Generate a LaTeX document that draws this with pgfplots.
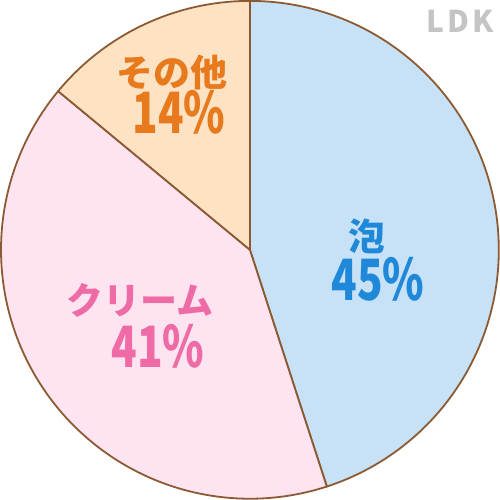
\documentclass[border=0pt]{standalone}
\usepackage{pgfplots}
\pgfplotsset{compat=1.18}
\usepackage{graphicx}
\usepackage{fontspec}
\newfontfamily\jp{Noto Sans CJK JP}
\definecolor{edge}{HTML}{8C5A32}
\definecolor{fillA}{HTML}{C7E1F6}
\definecolor{fillB}{HTML}{FDE4F0}
\definecolor{fillC}{HTML}{FEE2C4}
\definecolor{textA}{HTML}{2088D8}
\definecolor{textB}{HTML}{EE6BA5}
\definecolor{textC}{HTML}{E87A1E}
\definecolor{logo}{HTML}{C4C4C4}

% shares in percent, clockwise from the top
\def\pA{45}
\def\pB{41}
\def\pC{14}
\pgfmathsetmacro\aA{90}
\pgfmathsetmacro\aB{90-3.6*\pA}
\pgfmathsetmacro\aC{\aB-3.6*\pB}
\pgfmathsetmacro\aD{\aC-3.6*\pC}

\newcommand\lbl[1]{\jp\bfseries\fontsize{18.5bp}{20bp}\selectfont #1}
\newcommand\num[1]{\scalebox{0.74}[1]{\jp\bfseries\fontsize{28.5bp}{29bp}\selectfont #1}}

\begin{document}
\begin{tikzpicture}
\begin{axis}[
  scale only axis, width=250bp, height=249.5bp,
  xmin=0, xmax=500, ymin=0, ymax=499,
  hide axis, clip=false,
  samples=120, line join=round,
  every node/.append style={inner sep=0pt},
]
\path (rel axis cs:0,0) rectangle (rel axis cs:1,1);
\addplot[draw=edge, line width=0.9pt, fill=fillA, domain=\aB:\aA]
  ({250+249*cos(x)}, {250+249*sin(x)}) -- (axis cs:250,250) -- cycle;
\addplot[draw=edge, line width=0.9pt, fill=fillB, domain=\aC:\aB]
  ({250+249*cos(x)}, {250+249*sin(x)}) -- (axis cs:250,250) -- cycle;
\addplot[draw=edge, line width=0.9pt, fill=fillC, domain=\aD:\aC]
  ({250+249*cos(x)}, {250+249*sin(x)}) -- (axis cs:250,250) -- cycle;

\node[textA] at (axis cs:367,264) {\lbl{泡}};
\node[textA] at (axis cs:378,221) {\num{\pA\%}};
\node[textB] at (axis cs:140,199) {\lbl{クリーム}};
\node[textB] at (axis cs:158,153) {\num{\pB\%}};
\node[textC] at (axis cs:172,427) {\lbl{その他}};
\node[textC] at (axis cs:179,388) {\num{\pC\%}};
\node[logo] at (axis cs:460,479) {\jp\bfseries\fontsize{15bp}{16bp}\selectfont L\kern1.5bp D\kern1.5bp K};
\end{axis}
\end{tikzpicture}
\end{document}
